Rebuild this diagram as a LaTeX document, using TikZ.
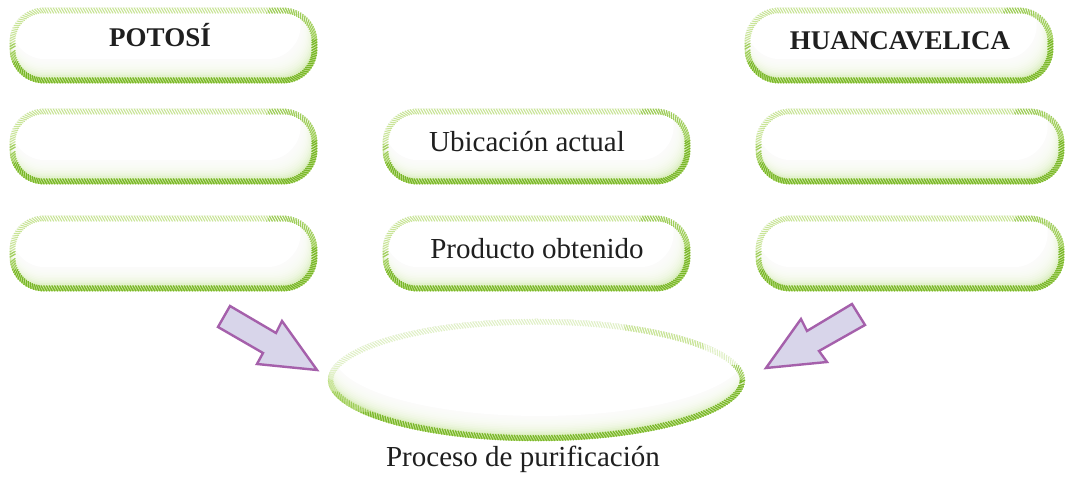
\documentclass[tikz,border=0pt]{standalone}
\usepackage{fontspec}
\setmainfont{Liberation Serif}
\usetikzlibrary{decorations.pathreplacing,shapes.geometric}
\definecolor{gdark}{RGB}{120,182,40}
\definecolor{gmid}{RGB}{158,205,90}
\definecolor{glight}{RGB}{200,228,150}
\definecolor{gfaint}{RGB}{224,240,198}
\definecolor{glowc}{RGB}{180,219,115}
\definecolor{arfill}{RGB}{216,213,234}
\definecolor{ardraw}{RGB}{165,96,171}
\tikzset{
  hatch/.style={decorate, decoration={border, segment length=2.7pt, amplitude=6.5pt, angle=-60, raise=0pt}, line width=1.1pt},
  hatchccw/.style={decorate, decoration={border, segment length=2.7pt, amplitude=6.5pt, angle=120, raise=0pt}, line width=1.1pt},
  pill/.style={minimum width=307pt, minimum height=75pt, inner sep=0pt},
  lab/.style={font=\fontsize{29}{32}\selectfont, anchor=base, text=black!88},
  blab/.style={font=\bfseries\fontsize{27}{30}\selectfont, anchor=base, text=black!88},
  arrowshape/.style={fill=arfill, draw=ardraw, line width=2.4pt, line join=miter},
  glowlayer/.style={fill=white, fill opacity=0.24}
}
% explicit pill outline (clockwise) with corner radius 34pt
\newcommand{\pillpath}[1]{([yshift=34pt]#1.south west) -- ([yshift=-34pt]#1.north west) arc[start angle=180, end angle=90, radius=34pt] -- ([xshift=-34pt]#1.north east) arc[start angle=90, end angle=0, radius=34pt] -- ([yshift=34pt]#1.south east) arc[start angle=0, end angle=-90, radius=34pt] -- ([xshift=34pt]#1.south west) arc[start angle=-90, end angle=-180, radius=34pt] -- cycle}
\newcommand{\drawpill}[1]{%
  \begin{scope}
    \clip \pillpath{#1};
    \fill[glowc] ([shift={(-5pt,-5pt)}]#1.south west) rectangle ([shift={(5pt,5pt)}]#1.north east);
    \foreach \k in {1,...,14}{
      \fill[glowlayer, rounded corners=34pt] ([xshift=\k*0.1pt, yshift=\k*1.6pt]#1.south west) rectangle ([xshift=-\k*1.1pt, yshift=40pt]#1.north east);
    }
    \fill[white, rounded corners=34pt] ([xshift=1.5pt, yshift=24pt]#1.south west) rectangle ([xshift=-16.5pt, yshift=40pt]#1.north east);
  \end{scope}
  \draw[hatch, draw=glight] \pillpath{#1};
  \begin{scope}
    \clip ([xshift=-20pt,yshift=2pt]#1.west) -- ([xshift=-70pt,yshift=2pt]#1.east) -- ([xshift=-35pt,yshift=20pt]#1.north east) -- ([xshift=20pt,yshift=20pt]#1.north east) -- ([xshift=20pt,yshift=-20pt]#1.south east) -- ([xshift=-20pt,yshift=-20pt]#1.south west) -- cycle;
    \draw[hatch, draw=gmid] \pillpath{#1};
  \end{scope}
  \begin{scope}
    \clip ([xshift=-20pt,yshift=-16pt]#1.west) -- ([xshift=-40pt,yshift=-16pt]#1.east) -- ([xshift=-20pt,yshift=6pt]#1.east) -- ([xshift=20pt,yshift=6pt]#1.east) -- ([xshift=20pt,yshift=-20pt]#1.south east) -- ([xshift=-20pt,yshift=-20pt]#1.south west) -- cycle;
    \draw[hatch, draw=gdark] \pillpath{#1};
  \end{scope}
}
\newcommand{\ellpath}{(proc.center) ellipse [x radius=208.5pt, y radius=61pt]}
\begin{document}
\begin{tikzpicture}[x=1pt,y=1pt]
\useasboundingbox[fill=white] (0,0) rectangle (1066,481);
% pill nodes
\node[pill] (pot) at (163.5,435.5) {};
\node[pill, minimum width=308pt] (hua) at (899,435.5) {};
\node[pill] (l2) at (163.5,334.5) {};
\node[pill] (m2) at (536.5,334.5) {};
\node[pill, minimum width=308pt] (r2) at (910,334.5) {};
\node[pill] (l3) at (163.5,227.5) {};
\node[pill] (m3) at (536.5,227.5) {};
\node[pill, minimum width=308pt] (r3) at (910,227.5) {};
\drawpill{pot}
\drawpill{hua}
\drawpill{l2}
\drawpill{m2}
\drawpill{r2}
\drawpill{l3}
\drawpill{m3}
\drawpill{r3}
% ellipse
\node[ellipse, minimum width=417pt, minimum height=122pt, inner sep=0pt] (proc) at (536.5,101) {};
\begin{scope}
  \clip \ellpath;
  \fill[glowc] \ellpath;
  \foreach \k in {1,...,14}{
    \fill[glowlayer] ([xshift=\k*0.2pt, yshift=\k*1.7pt]proc.center) ellipse [x radius=208.5pt-\k*0.2pt, y radius=61pt];
  }
  \fill[white] ([xshift=3pt, yshift=25pt]proc.center) ellipse [x radius=205.5pt, y radius=61pt];
\end{scope}
\draw[hatchccw, draw=gfaint] \ellpath;
\begin{scope}
  \clip ([xshift=-20pt,yshift=12pt]proc.west) -- ([xshift=-60pt,yshift=12pt]proc.west) -- ([xshift=-40pt,yshift=-30pt]proc.center) -- ([xshift=-120pt,yshift=10pt]proc.east) -- ([xshift=-60pt,yshift=20pt]proc.north east) -- ([xshift=20pt,yshift=20pt]proc.north east) -- ([xshift=20pt,yshift=-20pt]proc.south east) -- ([xshift=-20pt,yshift=-20pt]proc.south west) -- cycle;
  \draw[hatchccw, draw=glight] \ellpath;
\end{scope}
\begin{scope}
  \clip ([xshift=-20pt,yshift=-10pt]proc.west) -- ([xshift=-90pt,yshift=-30pt]proc.east) -- ([xshift=-20pt,yshift=15pt]proc.east) -- ([xshift=20pt,yshift=15pt]proc.east) -- ([xshift=20pt,yshift=-20pt]proc.south east) -- ([xshift=-20pt,yshift=-20pt]proc.south west) -- cycle;
  \draw[hatchccw, draw=gmid] \ellpath;
\end{scope}
\begin{scope}
  \clip ([xshift=-20pt,yshift=-32pt]proc.west) -- ([xshift=-100pt,yshift=-32pt]proc.east) -- ([xshift=-20pt,yshift=0pt]proc.east) -- ([xshift=20pt,yshift=0pt]proc.east) -- ([xshift=20pt,yshift=-20pt]proc.south east) -- ([xshift=-20pt,yshift=-20pt]proc.south west) -- cycle;
  \draw[hatchccw, draw=gdark] \ellpath;
\end{scope}
% labels
\node[blab] (tpot) at (160,434) {POTOSÍ};
\node[blab] (thua) at (900,431) {HUANCAVELICA};
\node[lab] (tubi) at (527,329) {Ubicación actual};
\node[lab] (tpro) at (537,222) {Producto obtenido};
\node[lab] (tproc) at (523,14) {Proceso de purificación};
% arrows
\draw[arrowshape] (230,175) -- (276,148) -- (282,160) -- (317,111) -- (257,117) -- (263,128) -- (218,154) -- cycle;
\draw[arrowshape] (852,177) -- (807,150) -- (801,162) -- (766,113) -- (827,119) -- (819,130) -- (865,156) -- cycle;
\end{tikzpicture}
\end{document}
